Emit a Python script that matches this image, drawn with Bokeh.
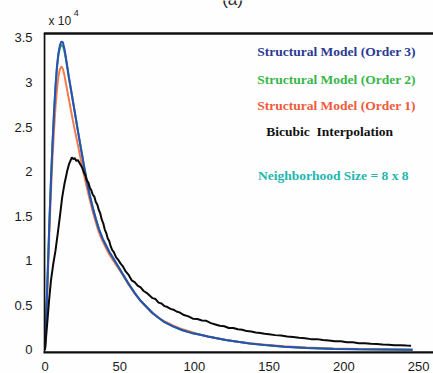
from bokeh.plotting import figure
from bokeh.models import Range1d, FixedTicker, Label, CustomJSTickFormatter, BoxAnnotation, Span
from bokeh.embed import file_html
from bokeh.resources import INLINE

# ---- data (values in units of 10^4) ----
x_blue = [0, 1, 2, 3, 4, 5, 6, 7, 8, 9, 10, 11, 12, 13, 14, 15, 16, 18, 20, 22, 24, 26, 28, 30, 32, 34, 36,
          38.5, 43, 48.5, 52, 56, 60, 64, 68, 72, 76, 80, 86, 92, 98, 104, 109, 115, 121, 129, 137, 149,
          160, 175, 193, 210, 230, 246]
y_blue = [0.0, 0.45, 0.95, 1.45, 1.9, 2.3, 2.65, 2.95, 3.18, 3.33, 3.42, 3.46, 3.45, 3.38, 3.28, 3.17, 3.06,
          2.86, 2.66, 2.46, 2.26, 2.07, 1.89, 1.73, 1.59, 1.47, 1.36, 1.25, 1.1, 0.95, 0.85, 0.74, 0.64,
          0.55, 0.48, 0.41, 0.36, 0.31, 0.26, 0.22, 0.19, 0.17, 0.15, 0.13, 0.11, 0.09, 0.07, 0.05, 0.035,
          0.02, 0.01, 0.006, 0.003, 0.0]

x_green = [0, 1, 2, 3, 4, 5, 6, 7, 8, 9, 10, 11, 12, 13, 14, 15, 16, 18, 20, 22, 24, 26, 28, 30, 32, 34, 36,
           38.5, 43, 48.5, 52, 56, 60, 64, 68, 72, 76, 80, 86, 92, 98, 104, 109, 115, 121, 129, 137, 149,
           160, 175, 193, 210, 230, 246]
y_green = [0.0, 0.46, 0.97, 1.47, 1.92, 2.31, 2.65, 2.94, 3.16, 3.31, 3.39, 3.42, 3.41, 3.35, 3.26, 3.16, 3.05,
           2.86, 2.66, 2.46, 2.27, 2.08, 1.9, 1.74, 1.6, 1.47, 1.36, 1.25, 1.1, 0.95, 0.85, 0.74, 0.64,
           0.55, 0.48, 0.41, 0.36, 0.31, 0.26, 0.22, 0.19, 0.17, 0.15, 0.13, 0.11, 0.09, 0.07, 0.05, 0.035,
           0.02, 0.011, 0.006, 0.003, 0.001]

x_orange = [0, 1, 2, 3, 4, 5, 6, 7, 8, 9, 10, 11, 12, 13, 14, 15, 16, 18, 20, 22, 24, 26, 28, 30, 32, 34, 36,
            38.5, 43, 48.5, 52, 56, 60, 64, 68, 72, 76, 80, 86, 92, 98, 104, 109, 115, 121, 129, 137, 149,
            160, 175, 193, 210, 230, 246]
y_orange = [0.0, 0.4, 0.88, 1.35, 1.78, 2.15, 2.45, 2.72, 2.92, 3.07, 3.15, 3.18, 3.15, 3.08, 2.99, 2.9, 2.81,
            2.63, 2.46, 2.3, 2.13, 1.97, 1.82, 1.68, 1.55, 1.43, 1.32, 1.22, 1.07, 0.93, 0.84, 0.73, 0.63,
            0.55, 0.48, 0.42, 0.36, 0.32, 0.27, 0.23, 0.2, 0.17, 0.15, 0.13, 0.11, 0.09, 0.075, 0.055, 0.04,
            0.025, 0.015, 0.008, 0.004, 0.002]

x_black = [0, 1.5, 2.7, 4, 5.5, 7, 8.5, 10, 11.5, 13, 14.9, 16, 17, 18, 19, 20, 21, 22, 23, 24, 25, 26, 27,
           28, 29, 30, 31, 32, 33, 34, 35, 36, 37, 38, 39, 40, 41, 42, 43, 44, 45, 46, 47.5, 49, 50.5, 52,
           54, 56, 58, 60, 62, 64, 66, 68, 70, 72, 74, 76, 78, 80, 82, 84, 86, 88, 90, 93, 96, 99, 102, 105,
           108, 111, 114, 117, 120, 123, 126, 129, 132, 135, 138, 141, 144, 147, 150, 154, 158, 162, 166,
           170, 174, 178, 182, 186, 190, 194, 198, 202, 206, 210, 214, 218, 222, 226, 230, 234, 238, 242, 245]
y_black = [0.0, 0.3, 0.55, 0.78, 0.96, 1.11, 1.3, 1.5, 1.71, 1.86, 2.01, 2.08, 2.12, 2.16, 2.14, 2.15, 2.12,
           2.13, 2.1, 2.07, 2.04, 1.99, 1.96, 1.9, 1.88, 1.82, 1.79, 1.74, 1.72, 1.66, 1.63, 1.57, 1.53, 1.46,
           1.42, 1.35, 1.31, 1.25, 1.22, 1.16, 1.12, 1.1, 1.04, 1.01, 0.97, 0.94, 0.88, 0.84, 0.78, 0.76, 0.72,
           0.7, 0.66, 0.64, 0.61, 0.58, 0.57, 0.53, 0.52, 0.49, 0.48, 0.46, 0.45, 0.43, 0.42, 0.39, 0.375,
           0.35, 0.345, 0.33, 0.325, 0.3, 0.285, 0.27, 0.265, 0.245, 0.245, 0.23, 0.225, 0.21, 0.205, 0.195,
           0.19, 0.18, 0.175, 0.165, 0.16, 0.15, 0.145, 0.135, 0.13, 0.12, 0.12, 0.11, 0.105, 0.095, 0.095,
           0.085, 0.085, 0.075, 0.075, 0.068, 0.066, 0.06, 0.058, 0.052, 0.052, 0.048, 0.046]

x_ticks = [0, 50, 100, 150, 200, 250]
y_ticks = [0, 0.5, 1, 1.5, 2, 2.5, 3, 3.5]

legend_texts = ["Structural Model (Order 3)", "Structural Model (Order 2)",
                "Structural Model (Order 1)", "Bicubic\u00a0 Interpolation",
                "Neighborhood Size = 8 x 8"]

# axes box limits (data units)
X_MIN, X_MAX = -1, 260
Y_MIN, Y_BOX_TOP, Y_CANVAS_TOP = -0.03, 3.55, 3.92

# ---- figure ----
p = figure(width=433, height=373, output_backend="svg", toolbar_location=None,
           x_range=Range1d(X_MIN, X_MAX), y_range=Range1d(Y_MIN, Y_CANVAS_TOP),
           min_border_left=43, min_border_right=0, min_border_top=0, min_border_bottom=21)
p.outline_line_color = None
p.grid.visible = False
p.background_fill_color = "#fefefe"
p.border_fill_color = "#fefefe"

for ax in (p.xaxis[0], p.yaxis[0]):
    ax.axis_line_width = 2
    ax.axis_line_color = "#111111"
    ax.major_tick_line_color = None
    ax.minor_tick_line_color = None
    ax.major_label_text_font = "Liberation Sans"
    ax.major_label_text_font_size = "13px"
    ax.major_label_text_color = "#1a1a1a"
    ax.formatter = CustomJSTickFormatter(code="return String(tick);")

p.yaxis[0].axis_line_color = None
p.xaxis[0].ticker = FixedTicker(ticks=x_ticks)
p.yaxis[0].ticker = FixedTicker(ticks=y_ticks)
p.xaxis[0].major_label_standoff = 3
p.yaxis[0].major_label_standoff = 5

# axes box: top border and left border (right side runs off the canvas)
p.add_layout(Span(location=Y_BOX_TOP, dimension="width", line_color="#111111", line_width=2))
p.add_layout(BoxAnnotation(left=X_MIN + 0.6, right=X_MAX + 20, bottom=Y_MIN, top=Y_BOX_TOP,
                           fill_alpha=0, line_color="#111111", line_width=2, line_alpha=1))

p.line(x_orange, y_orange, line_color="#f47a4e", line_width=2)
p.line(x_green, y_green, line_color="#2fa84a", line_width=2)
p.line(x_blue, y_blue, line_color="#2b4fb8", line_width=2)
p.line(x_black, y_black, line_color="#0a0a0a", line_width=2)

colors = ["#2b3a93", "#3ab54a", "#f15a3a", "#111111", "#1fb5b0"]
lx = [142, 142, 142, 148, 142.5]
ly = [3.35, 3.03, 2.74, 2.45, 1.96]
for t, c, xx, yy in zip(legend_texts, colors, lx, ly):
    p.add_layout(Label(x=xx, y=yy, text=t, text_color=c, text_font="Liberation Serif",
                       text_font_style="bold", text_font_size="13.5px", text_baseline="middle",
                       text_align="left"))

p.add_layout(Label(x=125.5, y=3.83, text="(a)", text_font="Liberation Sans",
                   text_font_size="17px", text_align="center", text_baseline="bottom",
                   text_color="#222222"))
p.add_layout(Label(x=2.3, y=3.685, text="x 10", text_font="Liberation Sans",
                   text_font_size="12px", text_align="left", text_baseline="middle",
                   text_color="#222222"))
p.add_layout(Label(x=19.3, y=3.78, text="4", text_font="Liberation Sans",
                   text_font_size="9px", text_align="left", text_baseline="middle",
                   text_color="#222222"))

open("out.html", "w").write(file_html(p, INLINE))
